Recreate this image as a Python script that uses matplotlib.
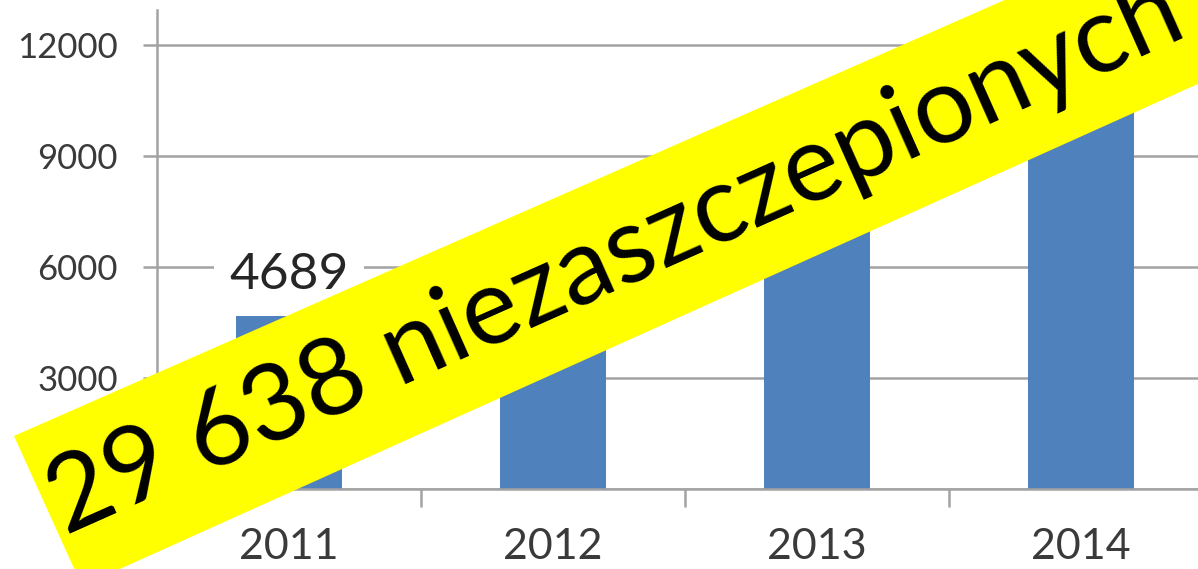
import matplotlib
matplotlib.use("Agg")
import matplotlib.pyplot as plt
from matplotlib.patches import Polygon

years = ["2011", "2012", "2013", "2014"]
values = [4689, 5340, 7248, 12361]
yticks = [0, 3000, 6000, 9000, 12000]
banner_text = "29 638 niezaszczepionych"

W, H = 1198, 569
plt.rcParams['font.family'] = ['Lato', 'DejaVu Sans']

fig = plt.figure(figsize=(W / 100, H / 100), dpi=100)
ax = fig.add_axes([157 / W, 80 / H, 1056 / W, 479 / H])

x = list(range(len(years)))
bars = ax.bar(x, values, width=0.4, color='#4f81bd', zorder=2)
labels = ax.bar_label(bars, labels=[str(v) for v in values], padding=13,
                      fontsize=37, color='#262626')
for t in labels:
    t.set_bbox(dict(boxstyle='square,pad=0.3', fc='white', ec='none'))
    t.set_zorder(3)

ax.set_xlim(-0.5, 3.5)
ax.set_ylim(0, 12950)
ax.set_yticks(yticks)
ax.set_yticklabels([str(v) for v in yticks])
ax.set_xticks(x)
ax.set_xticklabels(years)
ax.set_xticks([-0.5, 0.5, 1.5, 2.5, 3.5], minor=True)

gc = '#a3a3a3'
ax.yaxis.grid(True, color=gc, lw=1.8)
ax.set_axisbelow(True)
for s in ['top', 'right']:
    ax.spines[s].set_visible(False)
for s in ['left', 'bottom']:
    ax.spines[s].set_color(gc)
    ax.spines[s].set_linewidth(1.8)

ax.tick_params(axis='y', length=10, width=1.8, color=gc, labelsize=25,
               labelcolor='#3a3a3a', pad=18)
ax.tick_params(axis='x', which='major', length=0, labelsize=31,
               labelcolor='#3a3a3a', pad=28)
ax.tick_params(axis='x', which='minor', length=13, width=1.8, color=gc)

# yellow banner (pixel coords from top-left)
pts = [(14, 436), (1300, -130), (1300, 38), (82, 586)]
poly = Polygon([(px / W, 1 - py / H) for px, py in pts], closed=True,
               transform=fig.transFigure, fc='#ffff00', ec='none', zorder=10)
fig.add_artist(poly)
fig.text(615 / W, 1 - 258 / H, banner_text, rotation=24, ha='center',
         va='center', rotation_mode='anchor', fontsize=77, color='black',
         zorder=11)

fig.savefig('out.png', dpi=100)
